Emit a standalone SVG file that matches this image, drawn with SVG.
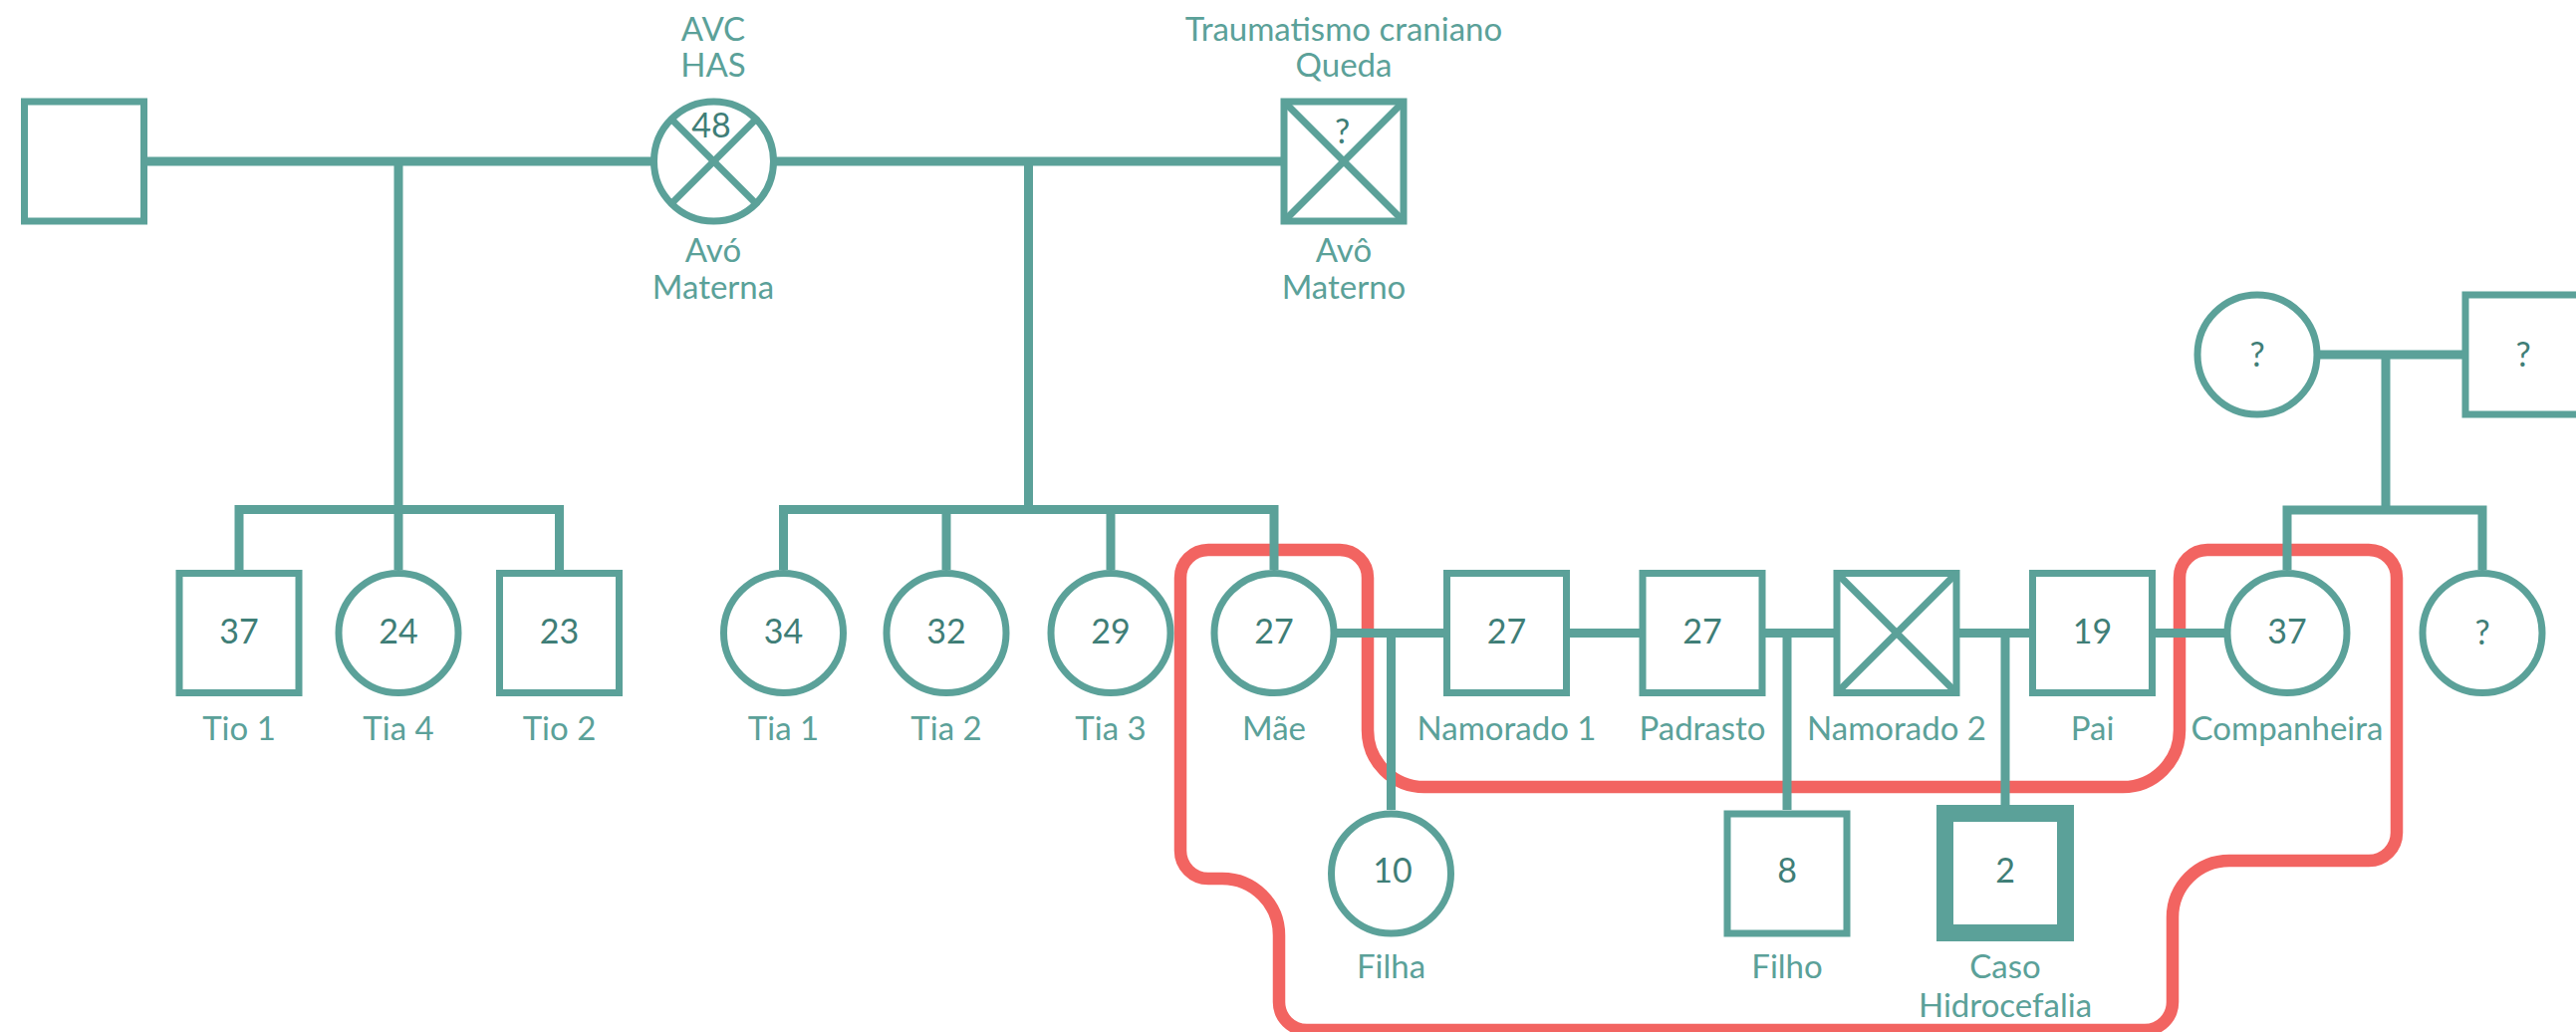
<svg xmlns="http://www.w3.org/2000/svg" width="2586" height="1036" viewBox="0 0 2586 1036">
  <style>
    .ln { stroke: #5ba199; stroke-width: 9; fill: none; stroke-linejoin: miter; }
    .nd { stroke: #5ba199; stroke-width: 7; fill: #ffffff; }
    .thick { stroke-width: 17; }
    .x { stroke: #5ba199; stroke-width: 7; }
    .hl { stroke: #f26461; stroke-width: 12.5; fill: none; }
    .num { font-family: Lato, "Open Sans", "DejaVu Sans", sans-serif; font-size: 34px; fill: #3f7e77; text-anchor: middle; }
    .lbl { font-family: Lato, "Open Sans", "DejaVu Sans", sans-serif; font-size: 33px; fill: #5ba199; text-anchor: middle; }
  </style>
  <rect width="2586" height="1036" fill="#ffffff"/>

  <!-- highlighted household outline -->
  <path id="household" class="hl" d="M1213,552 H1345 A28,28 0 0 1 1373,580 V733 A57,57 0 0 0 1430,790 H2131 A57,57 0 0 0 2188,733 V580 A28,28 0 0 1 2216,552 H2378 A28,28 0 0 1 2406,580 V836 A28,28 0 0 1 2378,864 H2238 A57,57 0 0 0 2181,921 V1006 A28,28 0 0 1 2153,1034 H1312 A28,28 0 0 1 1284,1006 V939 A57,57 0 0 0 1227,882 H1213 A28,28 0 0 1 1185,854 V580 A28,28 0 0 1 1213,552 Z"/>

  <!-- couple lines, descent lines and sibling bars -->
  <g id="connectors" class="ln">
    <path d="M84,162 H716"/>
    <path d="M716,162 H1349"/>
    <path d="M400,162 V511.5"/>
    <path d="M240,572 V511.5 H561.5 V572"/>
    <path d="M400,511.5 V572"/>
    <path d="M1032.5,162 V511.5"/>
    <path d="M786.5,572 V511.5 H1279 V572"/>
    <path d="M950,511.5 V572"/>
    <path d="M1115,511.5 V572"/>
    <path d="M2266,356 H2535"/>
    <path d="M2395,356 V512"/>
    <path d="M2296,572 V512 H2492 V572"/>
    <path d="M1279,635.5 H2296"/>
    <path d="M1396.5,635.5 V813"/>
    <path d="M1794,635.5 V813"/>
    <path d="M2013,635.5 V808"/>
  </g>

  <!-- generation I -->
  <g id="companheiro-avo">
    <rect class="nd" x="24.5" y="102" width="120" height="120"/>
  </g>
  <g id="avo-materna">
    <circle class="nd" cx="716.5" cy="162" r="60"/>
    <line class="x" x1="674.1" y1="119.6" x2="758.9" y2="204.4"/>
    <line class="x" x1="758.9" y1="119.6" x2="674.1" y2="204.4"/>
    <text class="num" x="714" y="138">48</text>
    <text class="lbl" x="716" y="41">AVC</text>
    <text class="lbl" x="716" y="77">HAS</text>
    <text class="lbl" x="716" y="263">Avó</text>
    <text class="lbl" x="716" y="300">Materna</text>
  </g>
  <g id="avo-materno">
    <rect class="nd" x="1289" y="102" width="120" height="120"/>
    <line class="x" x1="1289" y1="102" x2="1409" y2="222"/>
    <line class="x" x1="1409" y1="102" x2="1289" y2="222"/>
    <text class="num" x="1347.5" y="144">?</text>
    <text class="lbl" x="1349" y="41">Traumatismo craniano</text>
    <text class="lbl" x="1349" y="77">Queda</text>
    <text class="lbl" x="1349" y="263">Avô</text>
    <text class="lbl" x="1349" y="300">Materno</text>
  </g>
  <g id="mae-companheira">
    <circle class="nd" cx="2266" cy="356" r="60"/>
    <text class="num" x="2266" y="368">?</text>
  </g>
  <g id="pai-companheira">
    <rect class="nd" x="2475" y="296" width="120" height="120"/>
    <text class="num" x="2533" y="368">?</text>
  </g>

  <!-- generation II -->
  <g id="tio1">
    <rect class="nd" x="180" y="575.5" width="120" height="120"/>
    <text class="num" x="240" y="646">37</text>
    <text class="lbl" x="240" y="743">Tio 1</text>
  </g>
  <g id="tia4">
    <circle class="nd" cx="400" cy="635.5" r="60"/>
    <text class="num" x="400" y="646">24</text>
    <text class="lbl" x="400" y="743">Tia 4</text>
  </g>
  <g id="tio2">
    <rect class="nd" x="501.5" y="575.5" width="120" height="120"/>
    <text class="num" x="561.5" y="646">23</text>
    <text class="lbl" x="561.5" y="743">Tio 2</text>
  </g>
  <g id="tia1">
    <circle class="nd" cx="786.5" cy="635.5" r="60"/>
    <text class="num" x="786.5" y="646">34</text>
    <text class="lbl" x="786.5" y="743">Tia 1</text>
  </g>
  <g id="tia2">
    <circle class="nd" cx="950" cy="635.5" r="60"/>
    <text class="num" x="950" y="646">32</text>
    <text class="lbl" x="950" y="743">Tia 2</text>
  </g>
  <g id="tia3">
    <circle class="nd" cx="1115" cy="635.5" r="60"/>
    <text class="num" x="1115" y="646">29</text>
    <text class="lbl" x="1115" y="743">Tia 3</text>
  </g>
  <g id="mae">
    <circle class="nd" cx="1279" cy="635.5" r="60"/>
    <text class="num" x="1279" y="646">27</text>
    <text class="lbl" x="1279" y="743">Mãe</text>
  </g>
  <g id="namorado1">
    <rect class="nd" x="1452.5" y="575.5" width="120" height="120"/>
    <text class="num" x="1512.5" y="646">27</text>
    <text class="lbl" x="1512.5" y="743">Namorado 1</text>
  </g>
  <g id="padrasto">
    <rect class="nd" x="1649" y="575.5" width="120" height="120"/>
    <text class="num" x="1709" y="646">27</text>
    <text class="lbl" x="1709" y="743">Padrasto</text>
  </g>
  <g id="namorado2">
    <rect class="nd" x="1844" y="575.5" width="120" height="120"/>
    <line class="x" x1="1844" y1="575.5" x2="1964" y2="695.5"/>
    <line class="x" x1="1964" y1="575.5" x2="1844" y2="695.5"/>
    <text class="lbl" x="1904" y="743">Namorado 2</text>
  </g>
  <g id="pai">
    <rect class="nd" x="2040.5" y="575.5" width="120" height="120"/>
    <text class="num" x="2100.5" y="646">19</text>
    <text class="lbl" x="2100.5" y="743">Pai</text>
  </g>
  <g id="companheira">
    <circle class="nd" cx="2296" cy="635.5" r="60"/>
    <text class="num" x="2296" y="646">37</text>
    <text class="lbl" x="2296" y="743">Companheira</text>
  </g>
  <g id="irma-companheira">
    <circle class="nd" cx="2492" cy="635.5" r="60"/>
    <text class="num" x="2492" y="647">?</text>
  </g>

  <!-- generation III -->
  <g id="filha">
    <circle class="nd" cx="1396.5" cy="877" r="60"/>
    <text class="num" x="1398" y="886">10</text>
    <text class="lbl" x="1396.5" y="982">Filha</text>
  </g>
  <g id="filho">
    <rect class="nd" x="1734" y="817" width="120" height="120"/>
    <text class="num" x="1794" y="886">8</text>
    <text class="lbl" x="1794" y="982">Filho</text>
  </g>
  <g id="caso">
    <rect class="nd thick" x="1952.5" y="816.5" width="121" height="120"/>
    <text class="num" x="2013" y="886">2</text>
    <text class="lbl" x="2013" y="982">Caso</text>
    <text class="lbl" x="2013" y="1021">Hidrocefalia</text>
  </g>
</svg>
